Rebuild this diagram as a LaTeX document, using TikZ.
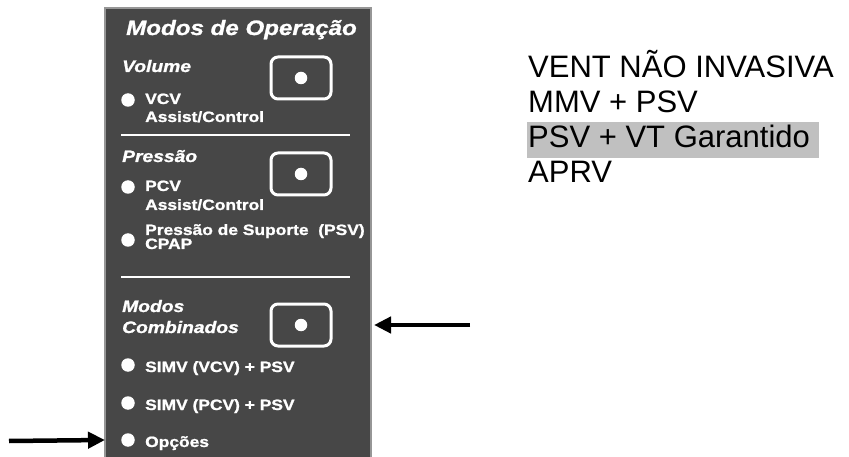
\documentclass[tikz,border=0pt]{standalone}
\usepackage{fontspec}
\setmainfont{Liberation Sans}
\newfontfamily\panelfont{Liberation Sans}[FakeStretch=1.16,
  BoldFeatures={FakeBold=1.2}, BoldItalicFeatures={FakeBold=1.2}]
\usetikzlibrary{arrows.meta}
\definecolor{panel}{RGB}{71,71,71}
\definecolor{panelline}{RGB}{150,150,150}
\definecolor{hilite}{RGB}{192,192,192}
\tikzset{
  head/.style={anchor=base west, inner sep=0pt, text=white,
               font=\panelfont\fontsize{20.8}{21}\selectfont\bfseries\itshape},
  group/.style={head, font=\panelfont\fontsize{16.6}{17}\selectfont\bfseries\itshape},
  item/.style={anchor=base west, inner sep=0pt, text=white,
               font=\panelfont\fontsize{15}{15}\selectfont\bfseries},
  bullet/.style={circle, fill=white, inner sep=0pt, minimum size=13.5pt},
  knob/.style={draw=white, line width=3pt, rounded corners=7pt, inner sep=0pt,
               minimum width=60pt, minimum height=42pt},
  dot/.style={circle, fill=white, inner sep=0pt, minimum size=12.5pt},
  sep/.style={draw=white, line width=2pt},
  pointer/.style={-{Triangle[length=17pt,width=16pt]}, line width=4.5pt},
  mode/.style={anchor=base west, inner sep=0pt, font=\fontsize{31}{31}\selectfont},
}

\begin{document}
\begin{tikzpicture}[x=1pt, y=-1pt]
  \useasboundingbox (0,0) rectangle (849,457);

  % panel
  \filldraw[fill=panel, draw=panelline, line width=1.5pt] (105,8) rectangle (371,460);
  \node[head] (title) at (126,35) {Modos de Operação};

  % volume
  \node[group] (vol) at (122,72) {Volume};
  \node[knob] (kvol) at (301,78) {};
  \node[dot] at (kvol.center) {};
  \node[bullet] (bvcv) at (128,100) {};
  \node[item] (vcv) at (145,104) {VCV};
  \node[item] (vcvac) at (145,122) {Assist/Control};
  \draw[sep] (121,135) -- (350,135);

  % pressure
  \node[group] (pre) at (122,162) {Pressão};
  \node[knob] (kpre) at (301,174) {};
  \node[dot] at (kpre.center) {};
  \node[bullet] (bpcv) at (128,187) {};
  \node[item] (pcv) at (145,191) {PCV};
  \node[item] (pcvac) at (145,210) {Assist/Control};
  \node[bullet] (bpsv) at (128,240) {};
  \node[item] (psv) at (145,235) {Pressão de Suporte\ \ (PSV)};
  \node[item] (cpap) at (145,249) {CPAP};
  \draw[sep] (121,277) -- (350,277);

  % combined
  \node[group] (comb1) at (122,312) {Modos};
  \node[group] (comb2) at (122,333) {Combinados};
  \node[knob] (kcomb) at (301,325) {};
  \node[dot] at (kcomb.center) {};
  \node[bullet] (bsv) at (128,365) {};
  \node[item] (simvv) at (145,372) {SIMV (VCV) + PSV};
  \node[bullet] (bsp) at (128,403) {};
  \node[item] (simvp) at (145,410) {SIMV (PCV) + PSV};
  \node[bullet] (bopt) at (128,440) {};
  \node[item] (opt) at (145,447) {Opções};

  % pointers
  \coordinate (pa) at (9,441);
  \coordinate (pb) at (470,325);
  \draw[pointer] (pa) -- (bopt.west -| 105,0);
  \draw[pointer] (pb) -- (kcomb.east -| 374,0);

  % option list
  \fill[hilite] (527,122) rectangle (819,158);
  \node[mode] (m1) at (528,78) {VENT NÃO INVASIVA};
  \node[mode] (m2) at (528,113) {MMV + PSV};
  \node[mode] (m3) at (528,148) {PSV + VT Garantido};
  \node[mode] (m4) at (528,183) {APRV};
\end{tikzpicture}
\end{document}
